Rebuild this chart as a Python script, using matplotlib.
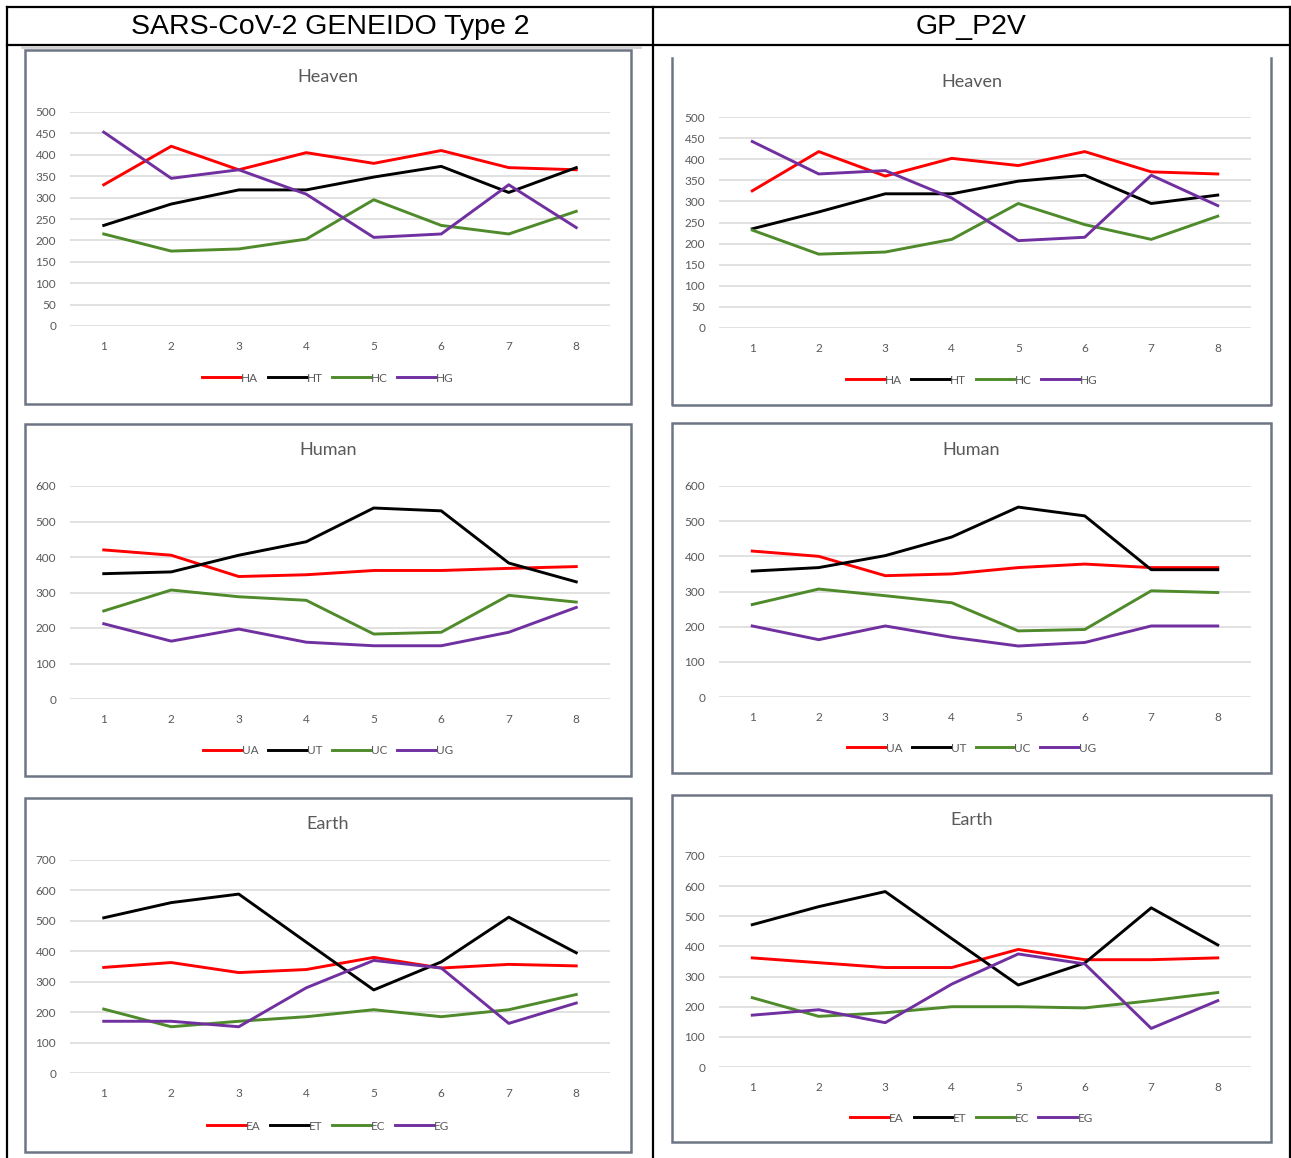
import matplotlib
matplotlib.use('Agg')
import matplotlib.pyplot as plt
from matplotlib.patches import Rectangle
from matplotlib.lines import Line2D

W, H = 1291, 1158

positions = [1, 2, 3, 4, 5, 6, 7, 8]
column_titles = ['SARS-CoV-2 GENEIDO Type 2', 'GP_P2V']
chart_titles = ['Heaven', 'Human', 'Earth']
series_names = [['HA', 'HT', 'HC', 'HG'],
                ['UA', 'UT', 'UC', 'UG'],
                ['EA', 'ET', 'EC', 'EG']]
y_max = [500, 600, 700]
y_step = [50, 100, 100]

# SARS-CoV-2 GENEIDO Type 2
heaven_left_a = [330, 420, 365, 405, 380, 410, 370, 365]
heaven_left_t = [235, 285, 318, 318, 348, 373, 312, 370]
heaven_left_c = [215, 175, 180, 203, 295, 235, 215, 268]
heaven_left_g = [453, 345, 365, 308, 207, 215, 330, 230]

human_left_a = [420, 405, 345, 350, 362, 362, 368, 373]
human_left_t = [353, 358, 405, 443, 538, 530, 383, 330]
human_left_c = [248, 307, 288, 278, 183, 188, 292, 273]
human_left_g = [212, 163, 197, 160, 150, 150, 188, 258]

earth_left_a = [347, 363, 330, 340, 380, 345, 357, 352]
earth_left_t = [510, 560, 588, 430, 273, 365, 512, 395]
earth_left_c = [210, 152, 170, 185, 208, 185, 208, 258]
earth_left_g = [170, 170, 152, 280, 370, 345, 163, 230]

# GP_P2V
heaven_right_a = [325, 418, 360, 402, 385, 418, 370, 365]
heaven_right_t = [235, 275, 318, 318, 348, 362, 295, 315]
heaven_right_c = [232, 175, 180, 210, 295, 245, 210, 265]
heaven_right_g = [442, 365, 373, 308, 207, 215, 362, 290]

human_right_a = [415, 400, 345, 350, 368, 378, 368, 368]
human_right_t = [358, 368, 402, 455, 540, 515, 362, 362]
human_right_c = [263, 307, 288, 268, 188, 192, 302, 297]
human_right_g = [202, 163, 202, 170, 145, 155, 202, 202]

earth_right_a = [362, 346, 330, 330, 390, 356, 356, 362]
earth_right_t = [472, 532, 582, 426, 272, 345, 528, 405]
earth_right_c = [230, 168, 180, 200, 200, 196, 220, 247]
earth_right_g = [172, 190, 147, 275, 375, 342, 128, 220]

data = [
    [[heaven_left_a, heaven_left_t, heaven_left_c, heaven_left_g],
     [heaven_right_a, heaven_right_t, heaven_right_c, heaven_right_g]],
    [[human_left_a, human_left_t, human_left_c, human_left_g],
     [human_right_a, human_right_t, human_right_c, human_right_g]],
    [[earth_left_a, earth_left_t, earth_left_c, earth_left_g],
     [earth_right_a, earth_right_t, earth_right_c, earth_right_g]],
]

colors = ['#ff0000', '#000000', '#4f8a2b', '#7030a0']
grey = '#595959'

# layout in pixels: frame (x0, y0, x1, y1), plot area (x0, x1, ytop, ybottom),
# title y, legend y
layout = {
    (0, 0): dict(frame=(25, 50, 631, 404), plot=(70, 610, 112, 326), title=77, legend=378),
    (0, 1): dict(frame=(672, 58, 1271, 405), plot=(719, 1251, 117, 328), title=82, legend=380),
    (1, 0): dict(frame=(25, 424, 631, 776), plot=(70, 610, 486, 699), title=450, legend=751),
    (1, 1): dict(frame=(672, 423, 1271, 773), plot=(719, 1251, 486, 697), title=450, legend=748),
    (2, 0): dict(frame=(25, 798, 631, 1152), plot=(70, 610, 860, 1073), title=824, legend=1126),
    (2, 1): dict(frame=(672, 795, 1271, 1142), plot=(719, 1251, 856, 1067), title=820, legend=1118),
}


def fx(x):
    return x / W


def fy(y):
    return 1 - y / H


fig = plt.figure(figsize=(W / 100, H / 100), dpi=100)
fig.patch.set_facecolor('white')

# table lines
table_kw = dict(color='black', lw=1.6, transform=fig.transFigure)
fig.add_artist(Line2D([fx(7), fx(1290)], [fy(7), fy(7)], **table_kw))
fig.add_artist(Line2D([fx(7), fx(1290)], [fy(45), fy(45)], **table_kw))
fig.add_artist(Line2D([fx(7), fx(7)], [fy(7), 0], **table_kw))
fig.add_artist(Line2D([fx(653), fx(653)], [fy(7), 0], **table_kw))
fig.add_artist(Line2D([fx(1289.5), fx(1289.5)], [fy(7), 0], **table_kw))
fig.add_artist(Line2D([fx(22), fx(640)], [fy(47), fy(47)], color='#d0d0d0', lw=2,
                      transform=fig.transFigure))

fig.text(fx(330), fy(27), column_titles[0], ha='center', va='center',
         fontsize=20.5, family='Liberation Sans')
fig.text(fx(971), fy(27), column_titles[1], ha='center', va='center',
         fontsize=20.5, family='Liberation Sans')

for row in range(3):
    for col in range(2):
        lay = layout[(row, col)]
        x0, y0, x1, y1 = lay['frame']
        frame_kw = dict(color='#6d7585', lw=1.8, transform=fig.transFigure)
        if (row, col) == (0, 1):
            # top edge of this chart is cut off in the source
            fig.add_artist(Line2D([fx(x0), fx(x0), fx(x1), fx(x1)],
                                  [fy(y0), fy(y1), fy(y1), fy(y0)], **frame_kw))
        else:
            fig.add_artist(Rectangle((fx(x0), fy(y1)), fx(x1 - x0), (y1 - y0) / H,
                                     fill=False, edgecolor='#6d7585', lw=1.8,
                                     transform=fig.transFigure))

        px0, px1, ptop, pbot = lay['plot']
        ax = fig.add_axes([fx(px0), fy(pbot), fx(px1 - px0), (pbot - ptop) / H])
        for name, vals, c in zip(series_names[row], data[row][col], colors):
            ax.plot(positions, vals, color=c, lw=2.1, label=name)
        ax.set_xlim(0.5, 8.5)
        ax.set_ylim(0, y_max[row])
        ax.set_yticks(range(0, y_max[row] + 1, y_step[row]))
        ax.set_xticks(positions)
        ax.grid(axis='y', color='#d9d9d9', lw=1.1)
        ax.set_axisbelow(True)
        for s in ax.spines.values():
            s.set_visible(False)
        ax.tick_params(length=0, labelsize=8.5, labelcolor=grey)
        ax.tick_params(axis='x', pad=11)
        ax.tick_params(axis='y', pad=10)
        for lbl in ax.get_xticklabels() + ax.get_yticklabels():
            lbl.set_family('Lato')

        fig.text(fx((x0 + x1) / 2), fy(lay['title']), chart_titles[row], ha='center',
                 va='center', fontsize=13, color=grey, family='Lato')

        leg = ax.legend(loc='center', bbox_to_anchor=(fx((x0 + x1) / 2), fy(lay['legend'])),
                        bbox_transform=fig.transFigure, ncol=4, frameon=False,
                        handlelength=3.3, handletextpad=0.0,
                        columnspacing=0.8, prop={'family': 'Lato', 'size': 8.5})
        for t in leg.get_texts():
            t.set_color(grey)

fig.savefig('out.png', dpi=100, facecolor='white')
